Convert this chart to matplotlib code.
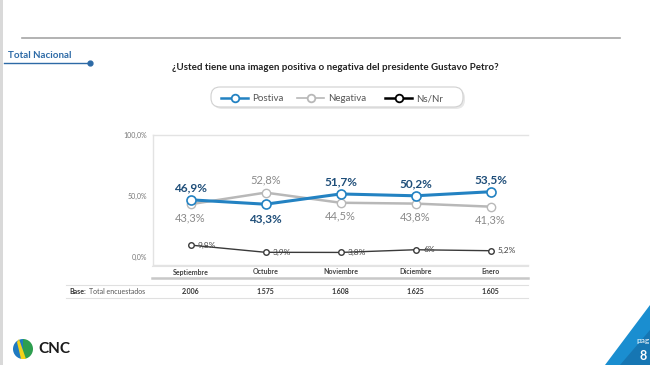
import matplotlib
matplotlib.use("Agg")
import matplotlib.pyplot as plt
import matplotlib.transforms as mtransforms
from matplotlib.patches import FancyBboxPatch, Polygon, Wedge

plt.rcParams['font.family'] = ['Lato', 'DejaVu Sans']

# Data
meses = ["Septiembre", "Octubre", "Noviembre", "Diciembre", "Enero"]
positiva = [46.9, 43.3, 51.7, 50.2, 53.5]
negativa = [43.3, 52.8, 44.5, 43.8, 41.3]
nsnr = [9.8, 3.9, 3.8, 6.0, 5.2]
base = ["2.006", "1.575", "1.608", "1.625", "1.605"]

# label placement (above / below)
pos_up = [True, False, True, True, True]
neg_up = [False, True, False, False, False]

C_POS = "#2382c2"
C_POS_TXT = "#1f4e79"
C_NEG = "#b8b8b8"
C_NEG_TXT = "#8a8a8a"
C_NS = "#3a3a3a"

W, H = 650, 365
fig = plt.figure(figsize=(W / 100, H / 100), dpi=100)

# background layer in pixel coordinates
bg = fig.add_axes([0, 0, 1, 1], zorder=0)
bg.set_xlim(0, W)
bg.set_ylim(H, 0)
bg.axis("off")

bg.add_patch(plt.Rectangle((0, 0), 3, H, color="#d9d9d9", lw=0))
bg.plot([22, 620], [38, 38], color="#a6a6a6", lw=1.2)
bg.text(8, 56, "Total Nacional", color="#2d6aa6", fontsize=7, fontweight="bold", va="center")
bg.plot([4, 90], [63, 63], color="#2d6aa6", lw=1)
bg.plot([90], [63], "o", color="#2d6aa6", ms=3.5)
bg.text(335, 68, "¿Usted tiene una imagen positiva o negativa del presidente Gustavo Petro?",
        fontsize=7, fontweight="bold", ha="center", va="center", color="#222222")

# legend box
bg.add_patch(FancyBboxPatch((213, 89), 252, 20, boxstyle="round,pad=0,rounding_size=9",
                            fc="#e8e8e8", ec="none", zorder=1))
bg.add_patch(FancyBboxPatch((211, 87), 252, 20, boxstyle="round,pad=0,rounding_size=9",
                            fc="white", ec="#d0d0d0", lw=0.8, zorder=2))
for lx, col, lw, name in [(221, C_POS, 1.8, "Postiva"),
                          (297, C_NEG, 1.2, "Negativa"),
                          (385, "black", 1.8, "Ns/Nr")]:
    bg.plot([lx, lx + 27], [98, 98], color=col, lw=lw, zorder=3)
    bg.plot([lx + 13.5], [98], "o", mfc="white", mec=col, mew=1.3, ms=5.5, zorder=4)
    bg.text(lx + 31, 98.5, name, fontsize=7, color="#555555", va="center", zorder=4)

# table lines
bg.plot([152, 528], [266, 266], color="#e3e3e3", lw=0.8)
bg.plot([152, 528], [278, 278], color="#c8c8c8", lw=1.8)
bg.plot([66, 528], [285, 285], color="#e0e0e0", lw=0.8)
bg.plot([66, 528], [298, 298], color="#e0e0e0", lw=0.8)
bg.text(69, 292, "Base:", fontsize=5, fontweight="bold", va="center", color="#333333")
bg.text(89, 292, "Total encuestados", fontsize=5, va="center", color="#555555")

# logo
bg.add_patch(Wedge((23, 349), 10, 90, 270, fc="#1f7ac1", ec="none"))
bg.add_patch(Wedge((23, 349), 10, -90, 90, fc="#2e9e4f", ec="none"))
bg.add_patch(Polygon([[19, 339], [26, 359], [21, 359], [17, 342]], fc="#f2d21b", ec="none"))
bg.text(38, 349, "CNC", fontsize=11, fontweight="bold", va="center", color="#1a1a1a")

# page corner
bg.add_patch(Polygon([[605, 365], [650, 305], [650, 365]], fc="#1a8ed0", ec="none"))
bg.add_patch(Polygon([[620, 365], [650, 330], [650, 365]], fc="#1676b3", ec="none"))
bg.text(636, 341, "pag", fontsize=6, color="white", va="center")
bg.text(640, 356, "8", fontsize=9, color="white", fontweight="bold", va="center")

# chart axes
x0, x1, y0, y1 = 153, 528, 135, 265
ax = fig.add_axes([x0 / W, 1 - y1 / H, (x1 - x0) / W, (y1 - y0) / H], zorder=2)
ax.patch.set_alpha(0)
xs = list(range(len(meses)))
ax.set_xlim(-0.5, len(meses) - 0.5)
ax.set_ylim(-6.5, 100)

ax.plot(xs, negativa, color=C_NEG, lw=1.8, marker="o", ms=6, mfc="white", mec=C_NEG, mew=1, zorder=3)
ax.plot(xs, positiva, color=C_POS, lw=2.2, marker="o", ms=6.5, mfc="white", mec=C_POS, mew=1.2, zorder=4)
ax.plot(xs, nsnr, color=C_NS, lw=1, marker="o", ms=4, mfc="white", mec=C_NS, mew=1, zorder=3)

def fmt(v):
    s = ("%.1f" % v).replace(".", ",")
    if s.endswith(",0"):
        s = s[:-2]
    return s + "%"

for i in xs:
    dy = 10 if pos_up[i] else -12
    ax.text(i, positiva[i] + dy, fmt(positiva[i]), ha="center", va="center",
            fontsize=8.5, fontweight="bold", color=C_POS_TXT, zorder=5)
    dy = 10 if neg_up[i] else -11
    ax.text(i, negativa[i] + dy, fmt(negativa[i]), ha="center", va="center",
            fontsize=8, color=C_NEG_TXT, zorder=5)
    ax.text(i + 0.1, nsnr[i], fmt(nsnr[i]), ha="left", va="center",
            fontsize=6, color="#444444", zorder=5)

ax.set_yticks([0, 50, 100])
ax.set_yticklabels(["0,0%", "50,0%", "100,0%"], fontsize=5, color="#777777")
ax.tick_params(axis="y", length=0, pad=4)
ax.set_xticks([])
for s in ["top", "left", "bottom"]:
    ax.spines[s].set_color("#e3e3e3")
    ax.spines[s].set_linewidth(1)
ax.spines["right"].set_visible(False)

# table text aligned with categories
tr = mtransforms.blended_transform_factory(ax.transData, ax.transAxes)
for i in xs:
    ax.text(i, -7 / 130, meses[i], transform=tr, ha="center", va="center",
            fontsize=5, fontweight="bold", color="#444444", clip_on=False)
    ax.text(i, -27 / 130, base[i], transform=tr, ha="center", va="center",
            fontsize=5, fontweight="bold", color="#333333", clip_on=False)

fig.savefig("out.png", dpi=100)
